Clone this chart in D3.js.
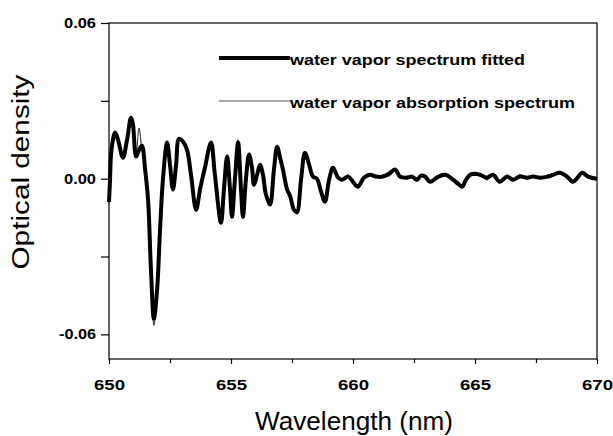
<!DOCTYPE html>
<html><head><meta charset="utf-8">
<script src="https://cdn.jsdelivr.net/npm/d3@7"></script>
<style>body{margin:0;background:#fff}svg{display:block}</style>
</head><body><svg id="c" width="613" height="436"></svg>
<script>
const wavelength = [
 650.00, 650.04, 650.10, 650.25, 650.37, 650.57, 650.74, 650.90, 650.98, 651.11,
 651.23, 651.35, 651.48, 651.60, 651.72, 651.84, 651.97, 652.09, 652.21, 652.38,
 652.50, 652.62, 652.75, 652.87, 653.03, 653.20, 653.36, 653.57, 653.73, 653.93,
 654.18, 654.34, 654.59, 654.71, 654.84, 654.96, 655.04, 655.16, 655.29, 655.41,
 655.49, 655.61, 655.74, 655.86, 655.94, 656.07, 656.19, 656.31, 656.43, 656.60,
 656.76, 656.89, 657.01, 657.13, 657.30, 657.42, 657.58, 657.70, 657.87, 658.03,
 658.20, 658.36, 658.52, 658.69, 658.85, 659.02, 659.18, 659.39, 659.55, 659.80,
 660.00, 660.20, 660.45, 660.70, 660.94, 661.23, 661.48, 661.72, 661.93, 662.21,
 662.42, 662.62, 662.79, 662.95, 663.16, 663.44, 663.77, 664.10, 664.30, 664.47,
 664.63, 664.80, 665.00, 665.20, 665.49, 665.74, 666.02, 666.31, 666.56, 666.84,
 667.13, 667.38, 667.66, 667.99, 668.20, 668.48, 668.77, 669.02, 669.20, 669.39,
 669.63, 670.00];
const fitted = [
 -0.0090, -0.0010, 0.0110, 0.0178, 0.0150, 0.0081, 0.0150, 0.0235, 0.0210, 0.0085,
 0.0110, 0.0127, 0.0035, -0.0080, -0.0350, -0.0540, -0.0430, -0.0200, -0.0004, 0.0139,
 0.0054, -0.0042, 0.0054, 0.0154, 0.0143, 0.0110, 0.0015, -0.0120, -0.0042, 0.0042,
 0.0139, 0.0015, -0.0170, -0.0042, 0.0085, -0.0042, -0.0147, -0.0004, 0.0139, -0.0042,
 -0.0147, -0.0004, 0.0093, 0.0042, -0.0023, 0.0015, 0.0054, 0.0015, -0.0060, -0.0100,
 0.0035, 0.0123, 0.0081, 0.0035, -0.0042, -0.0066, -0.0120, -0.0130, -0.0004, 0.0100,
 0.0054, 0.0008, 0.0000, -0.0050, -0.0089, -0.0004, 0.0042, 0.0004, -0.0004, 0.0008,
 -0.0012, -0.0031, 0.0004, 0.0015, 0.0008, 0.0008, 0.0019, 0.0035, 0.0008, 0.0004,
 0.0008, -0.0004, 0.0012, 0.0008, -0.0012, 0.0004, 0.0015, -0.0004, -0.0019, -0.0031,
 -0.0004, 0.0015, 0.0019, 0.0015, 0.0004, 0.0015, -0.0012, 0.0008, -0.0004, 0.0008,
 0.0004, 0.0008, 0.0004, 0.0008, 0.0015, 0.0023, 0.0008, -0.0012, 0.0004, 0.0023,
 0.0008, 0.0000];
const absorption = [
 -0.0095, -0.0010, 0.0110, 0.0180, 0.0150, 0.0085, 0.0150, 0.0228, 0.0205, 0.0090,
 0.0195, 0.0110, 0.0035, -0.0080, -0.0355, -0.0565, -0.0430, -0.0200, -0.0004, 0.0139,
 0.0054, -0.0040, 0.0054, 0.0150, 0.0143, 0.0110, 0.0015, -0.0125, -0.0042, 0.0042,
 0.0139, 0.0015, -0.0175, -0.0042, 0.0085, -0.0042, -0.0150, -0.0004, 0.0150, -0.0042,
 -0.0150, -0.0004, 0.0093, 0.0045, -0.0023, 0.0015, 0.0060, 0.0010, -0.0060, -0.0105,
 0.0035, 0.0123, 0.0081, 0.0035, -0.0050, -0.0066, -0.0120, -0.0135, -0.0004, 0.0100,
 0.0054, 0.0005, 0.0002, -0.0050, -0.0092, -0.0004, 0.0045, 0.0010, -0.0004, 0.0015,
 -0.0010, -0.0035, 0.0008, 0.0020, 0.0005, 0.0015, 0.0010, 0.0035, 0.0000, 0.0010,
 0.0003, -0.0010, 0.0018, 0.0000, -0.0015, 0.0010, 0.0020, -0.0008, -0.0015, -0.0035,
 0.0000, 0.0020, 0.0012, 0.0018, -0.0005, 0.0020, -0.0015, 0.0012, -0.0010, 0.0015,
 -0.0002, 0.0012, 0.0000, 0.0015, 0.0010, 0.0028, 0.0000, -0.0015, 0.0010, 0.0028,
 0.0003, -0.0002];
const xTickValues = [650, 655, 660, 665, 670];
const xMinorTicks = [652.5, 657.5, 662.5, 667.5];
const yTickValues = [0.06, 0.00, -0.06];
const yTickLabels = ["0.06", "0.00", "-0.06"];
const yMinorTicks = [0.03, -0.03];
const seriesNames = ["water vapor spectrum fitted", "water vapor absorption spectrum"];

const svg = d3.select("#c");
const L = 109, R = 597, T = 23, B = 359;
const x = d3.scaleLinear().domain([650, 670]).range([L, R]);
const y = d3.scaleLinear().domain([-0.0695, 0.06]).range([B, T]);

const fontB = "'Liberation Sans', Arial, sans-serif";

// data lines
const line = d3.line().x(d => x(d[0])).y(d => y(d[1])).curve(d3.curveCatmullRom.alpha(0.5));
const absData = wavelength.map((w, i) => [w, absorption[i]]);
const fitData = wavelength.map((w, i) => [w, fitted[i]]);
svg.append("path").attr("d", line(absData)).attr("fill", "none")
  .attr("stroke", "#222").attr("stroke-width", 1);
svg.append("path").attr("d", line(fitData)).attr("fill", "none")
  .attr("stroke", "#000").attr("stroke-width", 4).attr("stroke-linejoin", "round");

// frame
svg.append("rect").attr("x", L).attr("y", T).attr("width", R - L).attr("height", B - T)
  .attr("fill", "none").attr("stroke", "#000").attr("stroke-width", 1.2);

// x axis
const xAxis = d3.axisBottom(x).tickValues(xTickValues).tickSize(5).tickFormat(d3.format("d"));
const gx = svg.append("g").attr("transform", `translate(0,${B})`).call(xAxis);
gx.select(".domain").remove();
gx.selectAll("line").attr("stroke", "#000").attr("stroke-width", 1.2);
gx.selectAll("text").attr("font-family", fontB).attr("font-weight", "bold")
  .attr("font-size", 15).attr("fill", "#000").attr("dy", "1.55em")
  .attr("textLength", 31).attr("lengthAdjust", "spacingAndGlyphs");
const gxm = svg.append("g").attr("transform", `translate(0,${B})`)
  .call(d3.axisBottom(x).tickValues(xMinorTicks).tickSize(4).tickFormat(""));
gxm.select(".domain").remove();
gxm.selectAll("line").attr("stroke", "#000").attr("stroke-width", 1.2);

// y axis
const yAxis = d3.axisLeft(y).tickValues(yTickValues).tickSize(8)
  .tickFormat((d, i) => yTickLabels[i]);
const gy = svg.append("g").attr("transform", `translate(${L},0)`).call(yAxis);
gy.select(".domain").remove();
gy.selectAll("line").attr("stroke", "#000").attr("stroke-width", 1.2);
gy.selectAll("text").attr("font-family", fontB).attr("font-weight", "bold")
  .attr("font-size", 14).attr("fill", "#000").attr("x", -13)
  .attr("textLength", (d, i) => yTickLabels[i].length > 4 ? 37 : 32)
  .attr("lengthAdjust", "spacingAndGlyphs");
const gym = svg.append("g").attr("transform", `translate(${L},0)`)
  .call(d3.axisLeft(y).tickValues(yMinorTicks).tickSize(8).tickFormat(""));
gym.select(".domain").remove();
gym.selectAll("line").attr("stroke", "#000").attr("stroke-width", 1.2);

// axis titles
svg.append("text").attr("x", 354).attr("y", 430).attr("text-anchor", "middle")
  .attr("font-family", "'Liberation Sans', Arial, sans-serif").attr("font-size", 25)
  .attr("textLength", 198).attr("lengthAdjust", "spacingAndGlyphs")
  .text("Wavelength (nm)");
svg.append("text").attr("transform", "translate(29,172) rotate(-90)").attr("text-anchor", "middle")
  .attr("font-family", "'Liberation Sans', Arial, sans-serif").attr("font-size", 23)
  .attr("textLength", 195).attr("lengthAdjust", "spacingAndGlyphs")
  .text("Optical density");

// legend
const legY = [58, 101];
const legW = [4, 1];
const legC = ["#000", "#555"];
const legLen = [235, 285];
seriesNames.forEach((name, i) => {
  svg.append("line").attr("x1", 219).attr("x2", 290).attr("y1", legY[i]).attr("y2", legY[i])
    .attr("stroke", legC[i]).attr("stroke-width", legW[i]);
  svg.append("text").attr("x", 290).attr("y", legY[i] + 7)
    .attr("font-family", fontB).attr("font-weight", "bold").attr("font-size", 15)
    .attr("textLength", legLen[i]).attr("lengthAdjust", "spacingAndGlyphs")
    .text(name);
});
</script></body></html>
